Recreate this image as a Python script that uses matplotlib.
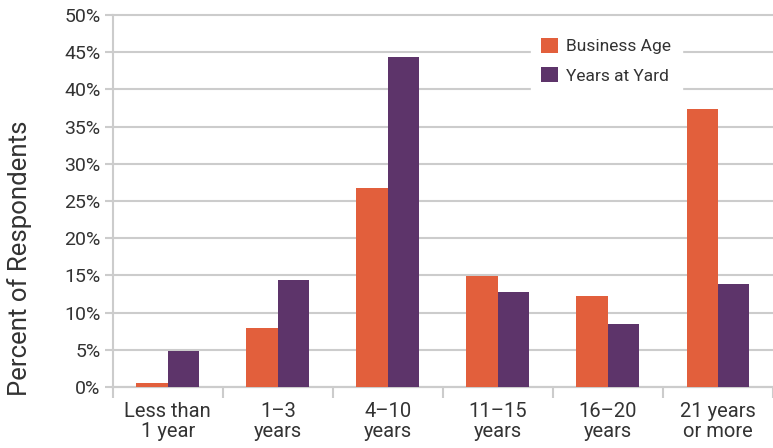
import matplotlib
matplotlib.use('Agg')
import matplotlib.pyplot as plt
import numpy as np

plt.rcParams['font.family'] = ['Roboto', 'DejaVu Sans']

# Дані
categories = ['Less than\n1 year', '1–3\nyears', '4–10\nyears',
              '11–15\nyears', '16–20\nyears', '21 years\nor more']
business_age = [0.5, 8.0, 26.7, 14.9, 12.2, 37.4]
years_at_yard = [4.8, 14.4, 44.4, 12.8, 8.5, 13.9]
series_names = ['Business Age', 'Years at Yard']
y_ticks = [0, 5, 10, 15, 20, 25, 30, 35, 40, 45, 50]

orange = '#E25F3C'
purple = '#5D346A'
grid_c = '#CCCCCC'
text_c = '#333333'

fig = plt.figure(figsize=(7.73, 4.48), dpi=100)
ax = fig.add_axes([0.146, 0.136, 0.854, 0.8305])

x = np.arange(len(categories))
w = 0.286
ax.bar(x - w / 2, business_age, w, color=orange, label=series_names[0], zorder=3)
ax.bar(x + w / 2, years_at_yard, w, color=purple, label=series_names[1], zorder=3)

ax.set_xlim(-0.5, len(categories) - 0.5)
ax.set_ylim(0, 50)
ax.set_yticks(y_ticks)
ax.set_yticklabels([f'{v}%' for v in y_ticks])
ax.yaxis.grid(True, color=grid_c, linewidth=1.5, zorder=0)
for gl in ax.yaxis.get_gridlines():
    gl.set_clip_on(False)

ax.set_xticks(x)
ax.set_xticklabels(categories, linespacing=1.05)
ax.set_xticks(np.arange(len(categories) + 1) - 0.5, minor=True)
ax.tick_params(axis='x', which='major', length=0, pad=11, labelsize=14.5, colors=text_c)
ax.tick_params(axis='x', which='minor', length=8, width=1.5, color=grid_c)
ax.tick_params(axis='y', length=6, width=1.5, color=grid_c, labelsize=14,
               labelcolor=text_c, pad=3)

for s in ['top', 'right']:
    ax.spines[s].set_visible(False)
ax.spines['left'].set_color(grid_c)
ax.spines['left'].set_linewidth(1.5)
ax.spines['bottom'].set_color(grid_c)
ax.spines['bottom'].set_linewidth(1.5)

ax.set_ylabel('Percent of Respondents', fontsize=18.5, color=text_c)
ax.yaxis.set_label_coords(-0.122, 0.347)

leg = ax.legend(loc='upper left', bbox_to_anchor=(0.62, 0.99), frameon=True,
                fontsize=12.5, handlelength=0.95, handleheight=0.95,
                labelspacing=0.75, handletextpad=0.5, borderpad=0.6)
leg.get_frame().set_facecolor('white')
leg.get_frame().set_edgecolor('white')
leg.get_frame().set_alpha(1)
for t in leg.get_texts():
    t.set_color(text_c)

fig.savefig('out.png', dpi=100)
plt.close(fig)
